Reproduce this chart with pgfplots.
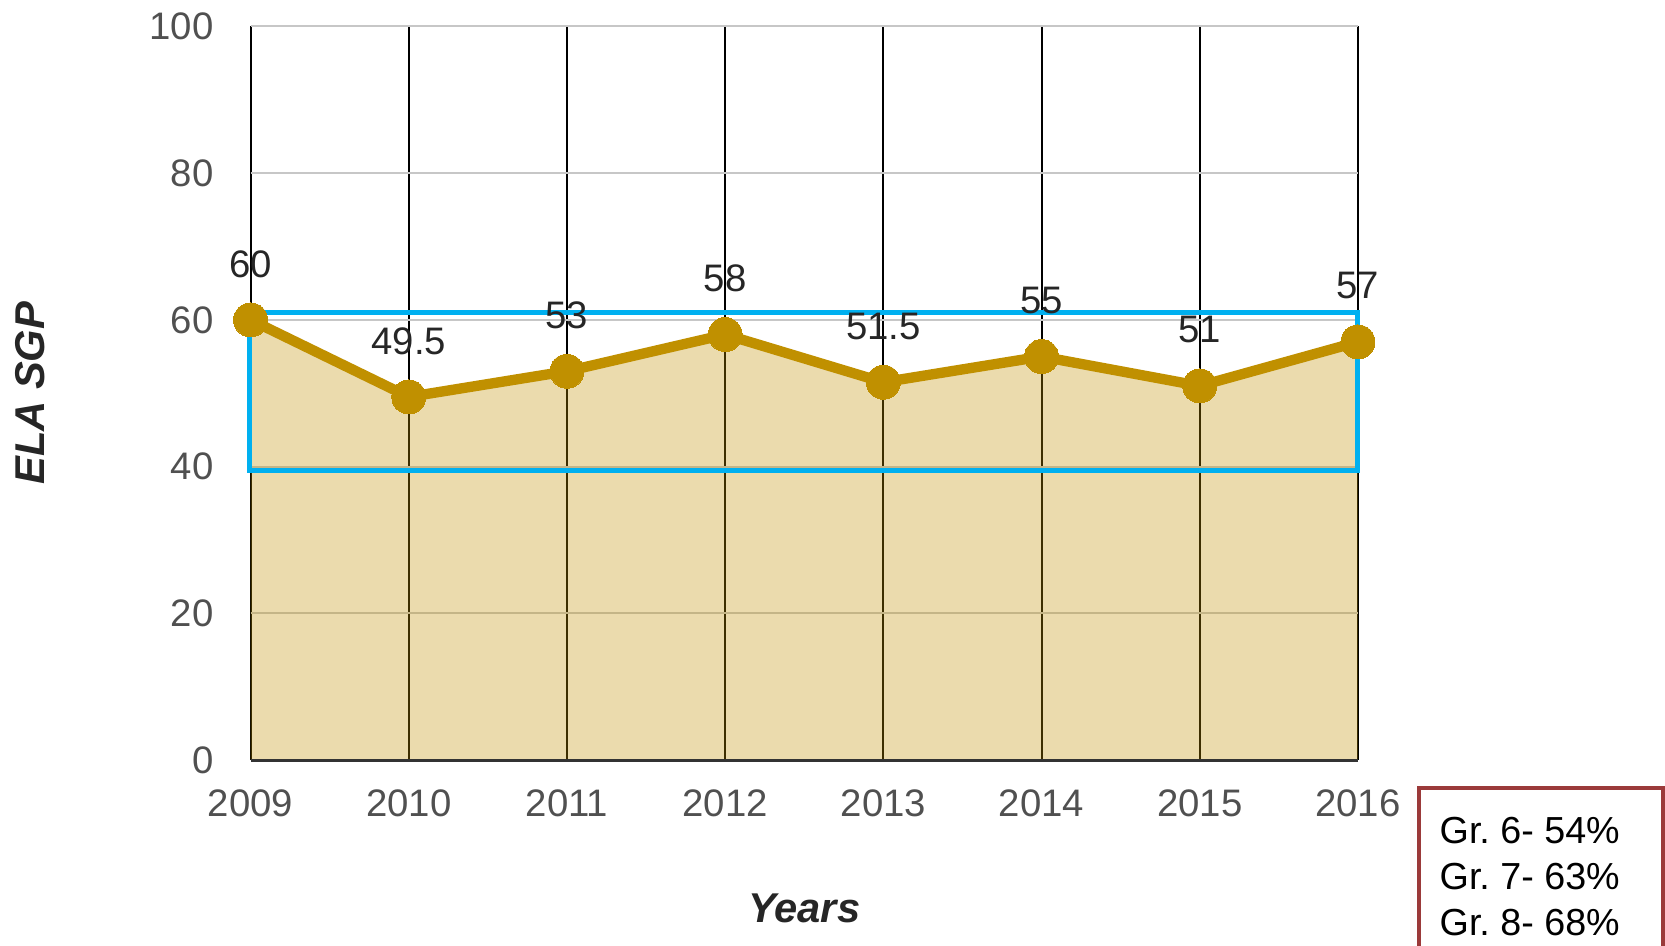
\documentclass[border=0pt]{standalone}
\usepackage{fontspec}
\setmainfont{Liberation Sans}
\usepackage{pgfplots}
\pgfplotsset{compat=1.18}
\definecolor{gold}{RGB}{192,144,0}
\definecolor{skyb}{RGB}{0,176,240}
\definecolor{boxred}{RGB}{155,58,58}
\definecolor{ticktxt}{RGB}{80,80,80}
\frenchspacing
\begin{document}
\begin{tikzpicture}[x=1pt,y=1pt]
\begin{axis}[
 at={(75.18pt,55.5pt)}, anchor=south west,
 scale only axis, width=332.2pt, height=220.05pt,
 xmin=2009, xmax=2016, ymin=0, ymax=100,
 xtick={2009,2010,2011,2012,2013,2014,2015,2016},
 xticklabels={2009,2010,2011,2012,2013,2014,2015,2016},
 ytick={0,20,40,60,80,100},
 major tick length=0pt,
 axis line style={draw=none},
 grid=major,
 x grid style={black, line width=0.6pt},
 y grid style={black!22, line width=0.6pt},
 tick label style={font=\fontsize{11.5}{13}\selectfont, text=ticktxt},
 /pgf/number format/assume math mode=true,
 yticklabel style={xshift=-7.6pt},
 xticklabel style={yshift=-5.3pt},
 xlabel={Years}, ylabel={ELA SGP},
 label style={font=\fontsize{12.5}{14}\selectfont\bfseries\itshape, text=black!85},
 xlabel style={at={(axis description cs:0.5,0)}, anchor=center, yshift=-44.4pt},
 ylabel style={at={(axis description cs:0,0.5)}, anchor=center, yshift=66.2pt},
 clip=false,
]
\addplot[draw=none, fill=gold, fill opacity=0.32] coordinates {
 (2009,60) (2010,49.5) (2011,53) (2012,58) (2013,51.5) (2014,55) (2015,51) (2016,57)
} \closedcycle;
\addplot[gold, line width=3.1pt, mark=*, mark size=5.1pt,
 mark options={fill=gold, draw=gold, line width=0pt},
 nodes near coords,
 nodes near coords style={font=\fontsize{11.5}{13}\selectfont, text=black!85, anchor=center, yshift=16.8pt}]
 coordinates {
 (2009,60) (2010,49.5) (2011,53) (2012,58) (2013,51.5) (2014,55) (2015,51) (2016,57)
};
\draw[black!80, line width=0.9pt] (axis cs:2009,0) -- (axis cs:2016,0);
\draw[skyb, line width=1.5pt] (axis cs:2008.99,39.5) rectangle (axis cs:2016.0,61);
\end{axis}
\draw[boxred, line width=1.1pt] (425.7pt,-10pt) rectangle (498.9pt,47.1pt);
\node[anchor=base west, inner sep=0pt, font=\fontsize{11.3}{13}\selectfont] at (431.7pt,30.6pt) {Gr. 6- 54\%};
\node[anchor=base west, inner sep=0pt, font=\fontsize{11.3}{13}\selectfont] at (431.7pt,16.8pt) {Gr. 7- 63\%};
\node[anchor=base west, inner sep=0pt, font=\fontsize{11.3}{13}\selectfont] at (431.7pt,3.0pt) {Gr. 8- 68\%};
\pgfresetboundingbox
\useasboundingbox (0,0) rectangle (499.5pt,283.5pt);
\end{tikzpicture}
\end{document}
